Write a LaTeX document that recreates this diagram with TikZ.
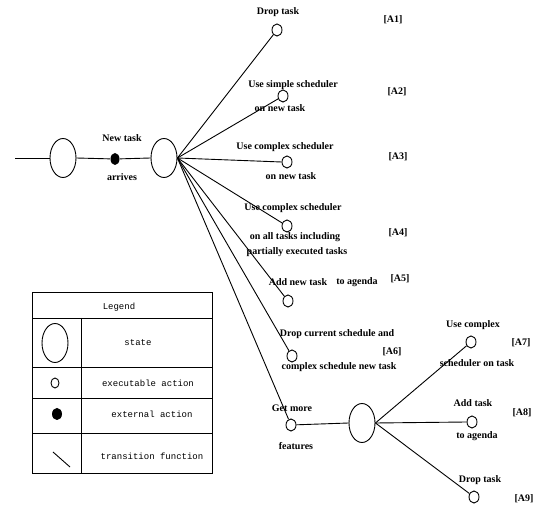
\documentclass[tikz,border=0pt]{standalone}
\usepackage{fontspec}
\setmainfont{Liberation Serif}
\setmonofont{Liberation Mono}
\usetikzlibrary{shapes.geometric}
\begin{document}
\begin{tikzpicture}[x=1pt,y=-1pt,
  every path/.style={line width=0.9pt},
  statenode/.style={draw,ellipse,minimum width=26pt,minimum height=39pt,inner sep=0pt,line width=0.9pt},
  actnode/.style={draw,ellipse,minimum width=10pt,minimum height=12pt,inner sep=0pt,line width=0.9pt},
  extnode/.style={fill=black,ellipse,minimum width=9pt,minimum height=12pt,inner sep=0pt},
  lbl/.style={font=\fontsize{10}{11}\selectfont\bfseries,inner sep=0pt},
  tag/.style={font=\fontsize{10}{11}\selectfont\bfseries,inner sep=0pt},
  leg/.style={font=\fontsize{9}{10}\ttfamily,inner sep=0pt}]
\useasboundingbox (0,0) rectangle (542,508);
% main chain
\coordinate (start) at (15,158);
\node[statenode] (s1) at (63,158) {};
\node[extnode] (ext) at (115,159) {};
\node[statenode] (s2) at (164,158) {};
\draw (start) -- (s1.west);
\draw (s1.east) -- (ext) -- (s2.west);
\node[lbl] (nt) at (122,138) {New task};
\node[lbl] (arr) at (122,177) {arrives};
% actions
\node[actnode] (a1) at (277,30) {};
\node[actnode] (a2) at (283,96) {};
\node[actnode] (a3) at (287,162) {};
\node[actnode] (a4) at (287,226) {};
\node[actnode] (a5) at (288,301) {};
\node[actnode] (a6) at (292,356) {};
\node[actnode] (gm) at (291,425) {};
\foreach \a in {a1,a2,a4,a5,a6,gm} \draw (s2.east) -- (\a);
\draw (s2.east) -- (a3.west);
% labels
\node[lbl] (l1) at (278,12) {Drop task};
\node[tag] (t1) at (393,20) {[A1]};
\node[lbl] (l2a) at (293,85) {Use simple scheduler};
\node[lbl] (l2b) at (280,108) {on new task};
\node[tag] (t2) at (397,92) {[A2]};
\node[lbl] (l3a) at (285,147) {Use complex scheduler};
\node[lbl] (l3b) at (291,176) {on new task};
\node[tag] (t3) at (398,157) {[A3]};
\node[lbl] (l4a) at (293,208) {Use complex scheduler};
\node[lbl] (l4b) at (295,237) {on all tasks including};
\node[lbl] (l4c) at (297,252) {partially executed tasks};
\node[tag] (t4) at (398,233) {[A4]};
\node[lbl] (l5a) at (298,282) {Add new task};
\node[lbl] (l5b) at (357,282) {to agenda};
\node[tag] (t5) at (400,279) {[A5]};
\node[lbl] (l6a) at (337,334) {Drop current schedule and};
\node[lbl] (l6b) at (339,367) {complex schedule new task};
\node[tag] (t6) at (392,352) {[A6]};
\node[lbl] (gma) at (292,408) {Get more};
\node[lbl] (gmb) at (296,446) {features};
% second state
\node[statenode] (s3) at (362,423) {};
\draw (gm) -- (s3.west);
\node[actnode] (a7) at (471,342) {};
\node[actnode] (a8) at (472,422) {};
\node[actnode] (a9) at (474,497) {};
\draw (s3.east) -- (a7);
\draw (s3.east) -- (a8.west);
\draw (s3.east) -- (a9);
\node[lbl] (l7a) at (473,325) {Use complex};
\node[lbl] (l7b) at (477,363) {scheduler on task};
\node[tag] (t7) at (521,343) {[A7]};
\node[lbl] (l8a) at (473,403) {Add task};
\node[lbl] (l8b) at (477,436) {to agenda};
\node[tag] (t8) at (522,413) {[A8]};
\node[lbl] (l9a) at (480,480) {Drop task};
\node[tag] (t9) at (524,499) {[A9]};
% legend
\draw (32,292) rectangle (212,473);
\draw (32,318) -- (212,318);
\draw (32,367) -- (212,367);
\draw (32,398) -- (212,398);
\draw (32,433) -- (212,433);
\draw (81,318) -- (81,473);
\node[leg] (lg) at (119,307) {Legend};
\node[statenode] (ls) at (55,343) {};
\node[leg] (lst) at (138,343) {state};
\node[actnode,minimum width=8pt,minimum height=10pt] (la) at (55,383) {};
\node[leg] (lat) at (148,383) {executable action};
\node[extnode,minimum width=10pt] (le) at (57,414) {};
\node[leg] (let) at (152,414) {external action};
\coordinate (tr1) at (53,452);
\coordinate (tr2) at (70,467);
\draw (tr1) -- (tr2);
\node[leg] (ltt) at (152,456) {transition function};
\end{tikzpicture}
\end{document}
